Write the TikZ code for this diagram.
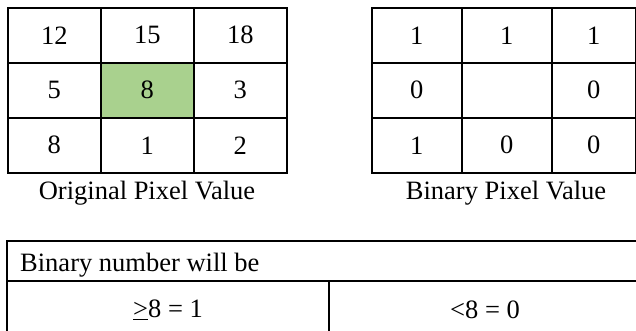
\documentclass[tikz,border=0pt]{standalone}
\usepackage{fontspec}
\setmainfont{Liberation Serif}
\definecolor{cellgreen}{HTML}{A9D18E}
\begin{document}
\begin{tikzpicture}[x=1pt,y=-1pt,
  cell/.style={draw=black,line width=1.6pt,minimum width=93pt,minimum height=55pt,inner sep=0pt,anchor=north west,font=\fontsize{26.5}{28}\selectfont},
  bcell/.style={cell,minimum width=90pt},
  captxt/.style={font=\fontsize{26.5}{28}\selectfont,inner sep=0pt},
  tbl/.style={draw=black,line width=1.6pt,inner sep=0pt,anchor=north west}]
\useasboundingbox (0,0) rectangle (636,330);
% left grid
\node[cell] (a11) at (7,7) {12};
\node[cell] (a12) at (100,7) {15};
\node[cell] (a13) at (193,7) {18};
\node[cell] (a21) at (7,62) {5};
\node[cell,fill=cellgreen] (a22) at (100,62) {8};
\node[cell] (a23) at (193,62) {3};
\node[cell] (a31) at (7,117) {8};
\node[cell] (a32) at (100,117) {1};
\node[cell] (a33) at (193,117) {2};
\node[captxt] (cap1) at (147,193) {Original Pixel Value};
% right grid
\node[bcell] (b11) at (371,7) {1};
\node[bcell] (b12) at (461,7) {1};
\node[bcell,minimum width=84pt] (b13) at (551,7) {1};
\node[bcell] (b21) at (371,62) {0};
\node[bcell] (b22) at (461,62) {};
\node[bcell,minimum width=84pt] (b23) at (551,62) {0};
\node[bcell] (b31) at (371,117) {1};
\node[bcell] (b32) at (461,117) {0};
\node[bcell,minimum width=84pt] (b33) at (551,117) {0};
\node[captxt] (cap2) at (506,193) {Binary Pixel Value};
% bottom table
\node[tbl,minimum width=634pt,minimum height=40pt] (head) at (6,240) {};
\node[captxt,anchor=west] (headtxt) at (20,265) {Binary number will be};
\node[tbl,minimum width=322pt,minimum height=56pt] (c1) at (6,280) {};
\node[tbl,minimum width=312pt,minimum height=56pt] (c2) at (328,280) {};
\node[captxt] (t1) at (168,310) {\underline{>}8 = 1};
\node[captxt] (t2) at (485,310) {<8 = 0};
\end{tikzpicture}
\end{document}
